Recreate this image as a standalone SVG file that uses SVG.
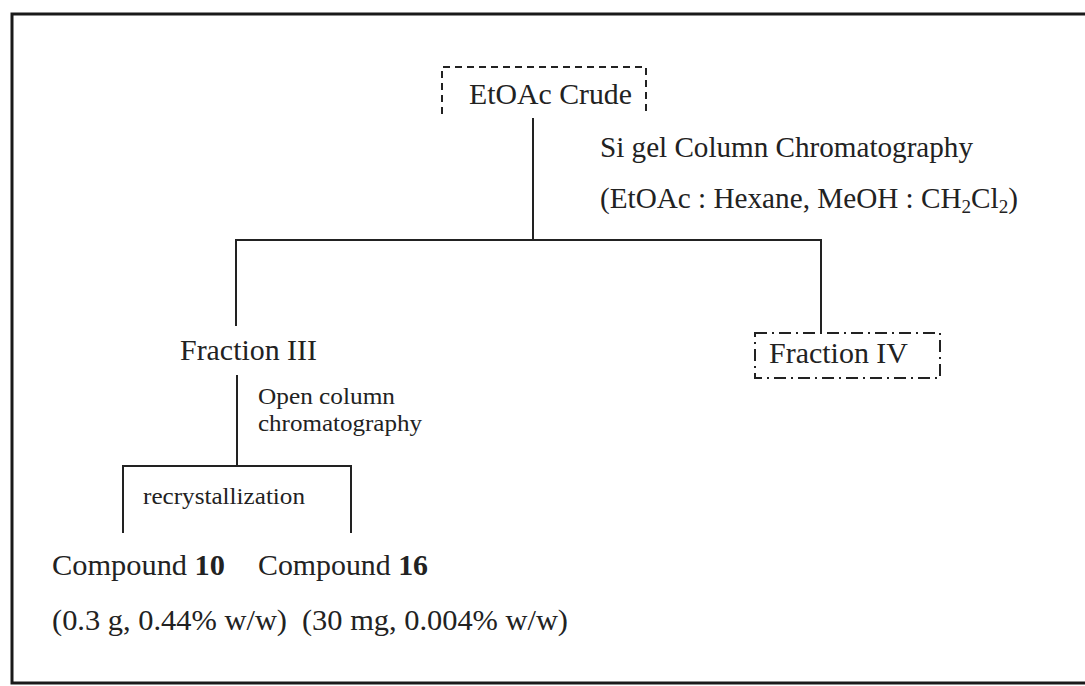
<svg xmlns="http://www.w3.org/2000/svg" width="1085" height="686" viewBox="0 0 1085 686">
  <style>
    .t { font-family: "Liberation Serif", "Times New Roman", serif; font-size: 29px; fill: #222; }
    .s { font-family: "Liberation Serif", "Times New Roman", serif; font-size: 24px; fill: #222; }
    .ln { stroke: #222; stroke-width: 2; fill: none; }
    .dash { stroke: #222; stroke-width: 2; fill: none; stroke-dasharray: 7 5; }
    .dashdot { stroke: #222; stroke-width: 2; fill: none; stroke-dasharray: 12 5 2 5; }
  </style>
  <rect width="1085" height="686" fill="#fff"/>

  <!-- outer frame (open on the right) -->
  <path d="M1090,14 H12 V683 H1090" fill="none" stroke="#1a1a1a" stroke-width="3"/>

  <!-- connectors -->
  <g id="connectors">
    <line class="ln" x1="533" y1="118" x2="533" y2="240"/>
    <line class="ln" x1="235" y1="240" x2="822" y2="240"/>
    <line class="ln" x1="236" y1="240" x2="236" y2="326"/>
    <line class="ln" x1="821" y1="240" x2="821" y2="333"/>
    <line class="ln" x1="237" y1="375" x2="237" y2="466"/>
    <line class="ln" x1="122" y1="466" x2="352" y2="466"/>
    <line class="ln" x1="123" y1="466" x2="123" y2="533"/>
    <line class="ln" x1="351" y1="466" x2="351" y2="533"/>
  </g>

  <!-- crude extract -->
  <g id="crude">
    <path class="dash" d="M442,114 V67 H646 V114"/>
    <text class="t" x="469" y="104" textLength="163" lengthAdjust="spacingAndGlyphs">EtOAc Crude</text>
  </g>

  <!-- column conditions -->
  <g id="si-gel">
    <text class="t" x="600" y="157" textLength="373" lengthAdjust="spacingAndGlyphs">Si gel Column Chromatography</text>
    <text class="t" x="600" y="208" textLength="418" lengthAdjust="spacingAndGlyphs">(EtOAc : Hexane, MeOH : CH<tspan font-size="19" dy="5">2</tspan><tspan dy="-5">Cl</tspan><tspan font-size="19" dy="5">2</tspan><tspan dy="-5">)</tspan></text>
  </g>

  <g id="fraction-iii">
    <text class="t" x="180" y="360" textLength="137" lengthAdjust="spacingAndGlyphs">Fraction III</text>
  </g>

  <g id="fraction-iv">
    <path class="dashdot" d="M755,333 H940 V378 H755 Z"/>
    <text class="t" x="769" y="363" textLength="139" lengthAdjust="spacingAndGlyphs">Fraction IV</text>
  </g>

  <g id="open-column">
    <text class="s" x="258" y="404" textLength="137" lengthAdjust="spacingAndGlyphs">Open column</text>
    <text class="s" x="258" y="431" textLength="164" lengthAdjust="spacingAndGlyphs">chromatography</text>
  </g>

  <g id="recrystallization">
    <text class="s" x="143" y="504" textLength="162" lengthAdjust="spacingAndGlyphs">recrystallization</text>
  </g>

  <g id="compound-10">
    <text class="t" x="52" y="575" textLength="173" lengthAdjust="spacingAndGlyphs">Compound <tspan font-weight="bold">10</tspan></text>
    <text class="t" x="52" y="630" textLength="235" lengthAdjust="spacingAndGlyphs">(0.3 g, 0.44% w/w)</text>
  </g>

  <g id="compound-16">
    <text class="t" x="258" y="575" textLength="170" lengthAdjust="spacingAndGlyphs">Compound <tspan font-weight="bold">16</tspan></text>
    <text class="t" x="302" y="630" textLength="266" lengthAdjust="spacingAndGlyphs">(30 mg, 0.004% w/w)</text>
  </g>
</svg>
